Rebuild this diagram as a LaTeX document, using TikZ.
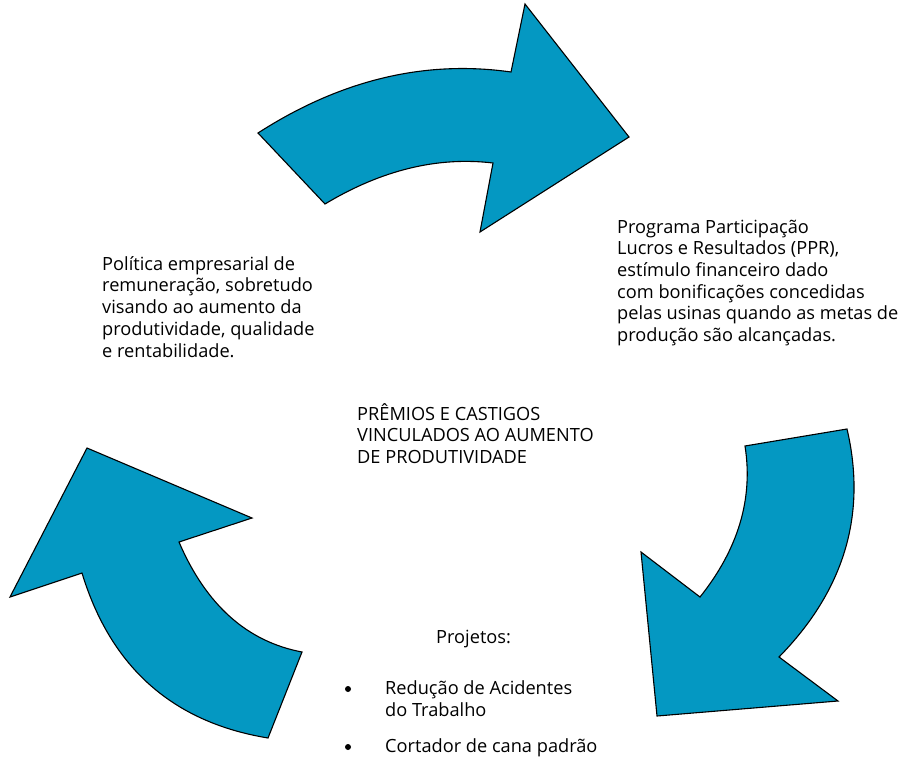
\documentclass[tikz,border=0pt]{standalone}
\usepackage{fontspec}
\setmainfont{Open Sans}
\usetikzlibrary{positioning}
\definecolor{cyclefill}{RGB}{4,152,194}

\begin{document}
\begin{tikzpicture}[
    x=1pt, y=-1pt,
    font=\fontsize{18.2}{21.7}\selectfont,
    % Styles
    cyclearrow/.style={draw=black, line width=1.1pt, fill=cyclefill, line join=miter},
    txt/.style={anchor=base west, align=left, inner sep=0pt},
    dot/.style={circle, fill=black, inner sep=0pt, minimum size=6pt}
]
\useasboundingbox (0,0) rectangle (904,760);

% 1. Top arrow (left to right)
\draw[cyclearrow] (258,133) .. controls (340.3,80) and (424.7,59.7) .. (511,72)
    -- (525,4) -- (629,137) -- (480,232) -- (493,163)
    .. controls (437.4,156.4) and (381.4,170.1) .. (325,204) -- cycle;

% 2. Right arrow (downwards)
\draw[cyclearrow] (745,446) -- (847,429)
    .. controls (867,514.3) and (844.3,590.3) .. (779,657)
    -- (838,701) -- (657,716) -- (641,552) -- (700,597)
    .. controls (738.3,549) and (753.3,498.7) .. (745,446) -- cycle;

% 3. Left arrow (upwards)
\draw[cyclearrow] (268,738) -- (302,652)
    .. controls (247,641.6) and (206,604.9) .. (179,542)
    -- (252,518) -- (87,448) -- (10,597) -- (82,573)
    .. controls (110.7,667.3) and (172.7,722.3) .. (268,738) -- cycle;

% 4. Texts (base = baseline of the last line)
\node[txt] (politica) at (102,357) {Política empresarial de\\remuneração, sobretudo\\visando ao aumento da\\produtividade, qualidade\\e rentabilidade.};
\node[txt] (ppr) at (617,341.5) {Programa Participação\\Lucros e Resultados (PPR),\\estímulo financeiro dado\\com bonificações concedidas\\pelas usinas quando as metas de\\produção são alcançadas.};
\node[txt] (premios) at (357,463.5) {PRÊMIOS E CASTIGOS\\VINCULADOS AO AUMENTO\\DE PRODUTIVIDADE};

% 5. Projects list
\node[txt] (projetos) at (436,643) {Projetos:};
\node[txt] (acidentes) at (385,716.5) {Redução de Acidentes\\do Trabalho};
\node[txt] (cortador) at (385,752) {Cortador de cana padrão};
\node[dot] (dotA) at (348,689) {};
\node[dot] (dotB) at (348,747) {};

\end{tikzpicture}
\end{document}
